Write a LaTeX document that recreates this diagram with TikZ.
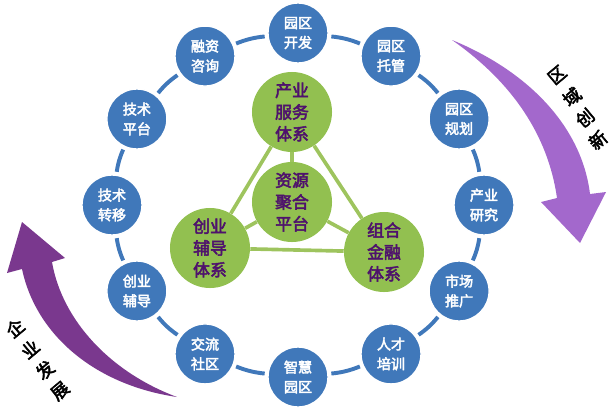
\documentclass[tikz,border=0pt]{standalone}
\usepackage{fontspec}
\newfontfamily\cjk[FakeBold=3]{Noto Sans CJK SC}
\usepackage{xcolor}
\usepackage{tikz}
\usetikzlibrary{calc}

\definecolor{ringblue}{RGB}{64,120,186}
\definecolor{leafgreen}{RGB}{146,192,80}
\definecolor{tiegreen}{RGB}{158,196,94}
\definecolor{inkpurple}{RGB}{78,18,108}
\definecolor{arrowlight}{RGB}{163,104,204}
\definecolor{arrowdark}{RGB}{122,56,142}

\tikzset{
  svc/.style={circle,fill=ringblue,draw=white,line width=1pt,minimum size=1.5cm,
    inner sep=0pt,align=center,text=white,font=\cjk\fontsize{10}{14}\selectfont},
  core/.style={circle,fill=leafgreen,minimum size=2cm,inner sep=0pt,align=center,
    text=inkpurple,font=\cjk\fontsize{12}{15.5}\selectfont},
  ring/.style={ringblue,line width=2.8pt,shorten <=2pt,shorten >=2pt},
  tie/.style={tiegreen,line width=2.6pt},
  tilt/.style={font=\cjk\fontsize{12.5}{13}\selectfont,rotate=40,inner sep=0pt}
}

\begin{document}
\begin{tikzpicture}[x=0.025cm,y=-0.025cm]
  \useasboundingbox (0,0) rectangle (616,415);

  % outer ring of services
  \foreach \a/\t [count=\i] in {90/园区\\开发,60/园区\\托管,30/园区\\规划,0/产业\\研究,
      -30/市场\\推广,-60/人才\\培训,-90/智慧\\园区,-120/交流\\社区,
      -150/创业\\辅导,180/技术\\转移,150/技术\\平台,120/融资\\咨询}
    \node[svc] (n\i) at ({298+186*cos(\a)},{205-172*sin(\a)}) {\t};
  \foreach \i [evaluate=\i as \j using {int(mod(\i,12)+1)}] in {1,...,12}
    \draw[ring] (n\i) to[bend left=8] (n\j);

  % inner triangle
  \node[core] (serve) at (292,112) {产业\\服务\\体系};
  \node[core] (hub) at (292,202) {资源\\聚合\\平台};
  \node[core] (venture) at (210,248) {创业\\辅导\\体系};
  \node[core] (finance) at (384,252) {组合\\金融\\体系};
  \draw[tie] (serve) -- (venture);
  \draw[tie] (serve) -- (finance);
  \draw[tie] (venture) -- (finance);
  \draw[tie] (hub) -- (serve);
  \draw[tie] (hub) -- (venture);
  \draw[tie] (hub) -- (finance);

  % side arrows
  \fill[arrowlight] (452,40) .. controls (530,72) and (582,128) .. (590,194)
    -- (606,192) -- (580,243) -- (541,202) -- (557,198)
    .. controls (548,135) and (512,82) .. (452,40) -- cycle;
  \fill[arrowdark] (177,397) .. controls (95,385) and (36,335) .. (22,269)
    -- (7,273) -- (22,222) -- (65,258) -- (52,262)
    .. controls (62,320) and (110,372) .. (177,397) -- cycle;

  \node[tilt] (r1) at (557,75) {区};
  \node[tilt] (r2) at (572,97) {域};
  \node[tilt] (r3) at (585,118) {创};
  \node[tilt] (r4) at (598,140) {新};
  \node[tilt] (l1) at (15,328) {企};
  \node[tilt] (l2) at (30,349) {业};
  \node[tilt] (l3) at (45,370) {发};
  \node[tilt] (l4) at (60,391) {展};
\end{tikzpicture}
\end{document}
